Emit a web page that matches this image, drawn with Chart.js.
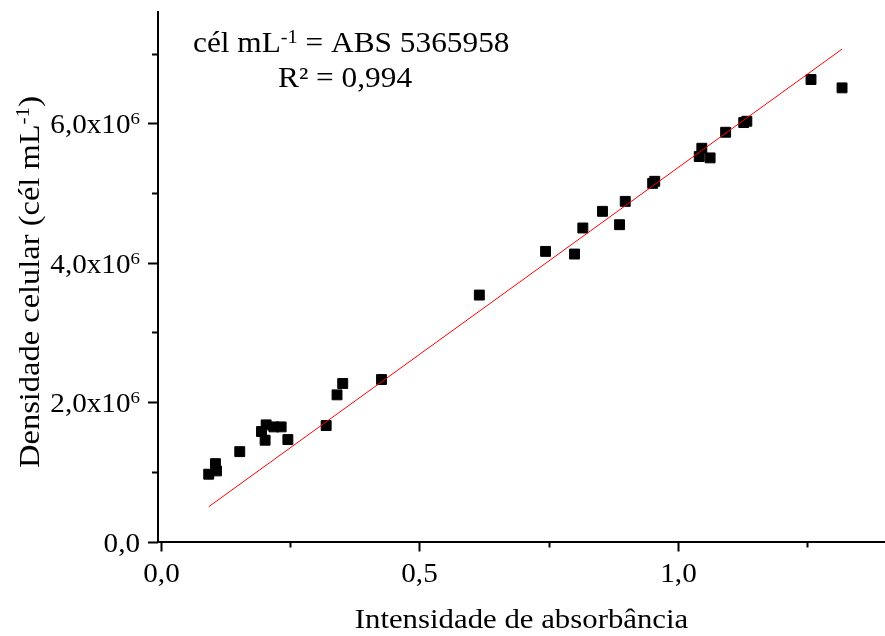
<!DOCTYPE html>
<html><head><meta charset="utf-8">
<script src="https://cdn.jsdelivr.net/npm/chart.js@4"></script>
<style>html,body{margin:0;padding:0;background:#fff;}#c{display:block;}</style>
</head><body>
<canvas id="c" width="885" height="636"></canvas>
<script>
// ---- data ----
const absorbance = [0.093, 0.106, 0.108, 0.153, 0.195, 0.204, 0.202, 0.219, 0.233, 0.246,
  0.320, 0.341, 0.352, 0.427, 0.616, 0.744, 0.800, 0.816, 0.854, 0.887, 0.898, 0.951, 0.955,
  1.041, 1.046, 1.062, 1.092, 1.127, 1.133, 1.257, 1.317];
const cellDensity = [0.966e6, 1.118e6, 1.013e6, 1.29e6, 1.578e6, 1.674e6, 1.454e6, 1.645e6, 1.645e6, 1.463e6,
  1.664e6, 2.105e6, 2.268e6, 2.325e6, 3.537e6, 4.164e6, 4.126e6, 4.5e6, 4.739e6, 4.547e6, 4.882e6, 5.14e6, 5.17e6,
  5.525e6, 5.644e6, 5.506e6, 5.874e6, 6.013e6, 6.032e6, 6.631e6, 6.511e6];
const fitSlope = 5365958;
const fitRange = [0.093, 1.317];
const xTickValues = [0, 0.5, 1.0];
const xTickLabels = ['0,0', '0,5', '1,0'];
const xMinorTicks = [0.25, 0.75, 1.25];
const yTickValues = [0, 2e6, 4e6, 6e6];
const yTickLabels = ['0,0', '2,0x10^{6}', '4,0x10^{6}', '6,0x10^{6}'];
const yMinorTicks = [1e6, 3e6, 5e6, 7e6];
const xTitle = 'Intensidade de absorbância';
const yTitle = 'Densidade celular (cél mL^{-1})';
const equationLines = ['cél mL^{-1} = ABS 5365958', 'R² = 0,994'];

const points = absorbance.map((x, i) => ({x: x, y: cellDensity[i]}));
const fitPoints = fitRange.map(x => ({x: x, y: fitSlope * x}));

const FONT = '"Liberation Serif", "Times New Roman", serif';
function parseRich(str) {
  const parts = str.split(/\^\{([^}]*)\}/);
  return parts.map((t, i) => ({text: t, sup: i % 2 === 1})).filter(s => s.text.length);
}
function drawRich(ctx, str, x, y, size, align, stretch) {
  const segs = parseRich(str);
  const supSize = size * 0.65;
  let total = 0;
  segs.forEach(s => {
    ctx.font = (s.sup ? supSize : size) + 'px ' + FONT;
    s.w = ctx.measureText(s.text).width;
    total += s.w;
  });
  ctx.save();
  ctx.translate(x, y);
  ctx.scale(stretch, 1);
  let cx = align === 'center' ? -total / 2 : align === 'right' ? -total : 0;
  ctx.textBaseline = 'alphabetic';
  ctx.textAlign = 'left';
  ctx.fillStyle = '#000';
  segs.forEach(s => {
    ctx.font = (s.sup ? supSize : size) + 'px ' + FONT;
    ctx.fillText(s.text, cx, s.sup ? -size * 0.32 : 0);
    cx += s.w;
  });
  ctx.restore();
}

const axisPlugin = {
  id: 'axisDecor',
  afterDraw(chart) {
    const ctx = chart.ctx;
    const xs = chart.scales.x, ys = chart.scales.y;
    const area = chart.chartArea;
    ctx.save();
    ctx.strokeStyle = '#000';
    ctx.lineWidth = 2;
    xs.ticks.forEach(t => {
      const px = Math.round(xs.getPixelForValue(t.value)) + 0.5;
      const idx = xTickValues.findIndex(v => Math.abs(v - t.value) < 1e-6);
      const len = idx >= 0 ? 10 : 6;
      ctx.beginPath(); ctx.moveTo(px, area.bottom); ctx.lineTo(px, area.bottom + len); ctx.stroke();
      if (idx >= 0) drawRich(ctx, xTickLabels[idx], px, area.bottom + 40, 27, 'center', 1.08);
    });
    ys.ticks.forEach(t => {
      const py = Math.round(ys.getPixelForValue(t.value)) + 0.5;
      const idx = yTickValues.findIndex(v => Math.abs(v - t.value) < 1);
      const len = idx >= 0 ? 10 : 6;
      ctx.beginPath(); ctx.moveTo(area.left, py); ctx.lineTo(area.left - len, py); ctx.stroke();
      if (idx >= 0) drawRich(ctx, yTickLabels[idx], area.left - 18, py + 9, 27, 'right', 1.08);
    });
    ctx.restore();
    drawRich(ctx, xTitle, (area.left + area.right) / 2, 628, 28, 'center', 1.1);
    ctx.save();
    ctx.translate(38.5, 282);
    ctx.rotate(-Math.PI / 2);
    drawRich(ctx, yTitle, 0, 0, 29, 'center', 1.12);
    ctx.restore();
    drawRich(ctx, equationLines[0], 193, 52, 29, 'left', 1.08);
    drawRich(ctx, equationLines[1], 278, 87, 29, 'left', 1.08);
  }
};

new Chart(document.getElementById('c'), {
  type: 'scatter',
  data: {
    datasets: [
      {type: 'line', data: fitPoints, borderColor: '#ff0000', borderWidth: 1, pointRadius: 0, fill: false, order: 0, tension: 0},
      {data: points, pointStyle: 'rect', pointRadius: 7, backgroundColor: '#000', borderColor: '#000', borderWidth: 1, order: 1}
    ]
  },
  options: {
    responsive: false, animation: false, devicePixelRatio: 1,
    layout: {autoPadding: false, padding: {top: 12, left: 0, right: 0, bottom: 0}},
    plugins: {legend: {display: false}, tooltip: {enabled: false}},
    scales: {
      x: {type: 'linear', min: -0.005, max: 1.4,
        grid: {display: false}, border: {display: true, color: '#000', width: 2},
        ticks: {display: false},
        afterBuildTicks(s) { s.ticks = xTickValues.concat(xMinorTicks).map(v => ({value: v})); },
        afterFit(s) { s.height = 94.5; }},
      y: {type: 'linear', min: 0, max: 7.6e6,
        grid: {display: false}, border: {display: true, color: '#000', width: 2},
        ticks: {display: false},
        afterBuildTicks(s) { s.ticks = yTickValues.concat(yMinorTicks).map(v => ({value: v})); },
        afterFit(s) { s.width = 158; }}
    }
  },
  plugins: [axisPlugin]
});
</script>
</body></html>
